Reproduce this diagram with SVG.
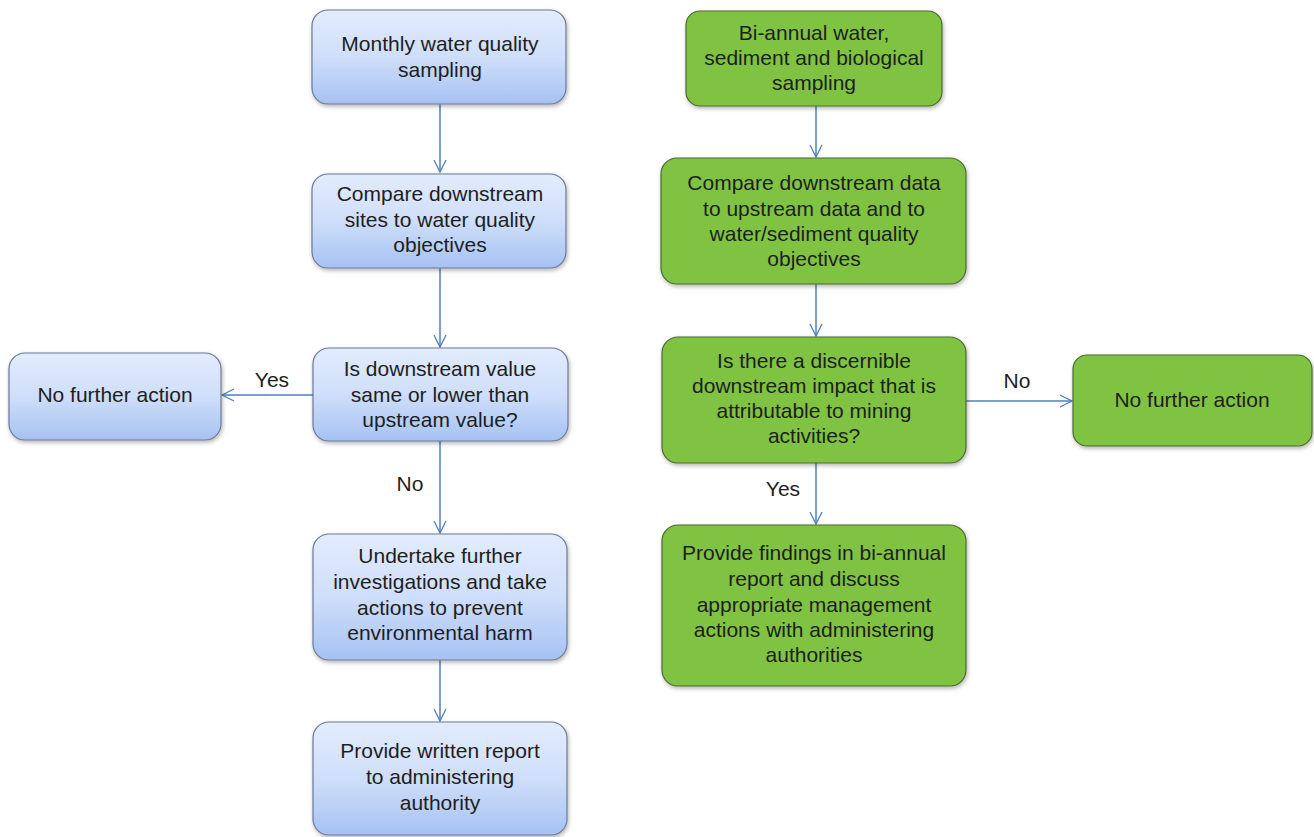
<svg xmlns="http://www.w3.org/2000/svg" width="1314" height="837" viewBox="0 0 1314 837">
<defs>
<linearGradient id="blueGrad" x1="0" y1="0" x2="0" y2="1">
<stop offset="0" stop-color="#e2ecfc"/>
<stop offset="0.5" stop-color="#cfdefa"/>
<stop offset="1" stop-color="#a6c2f3"/>
</linearGradient>
<filter id="shadow" x="-10%" y="-10%" width="125%" height="130%">
<feDropShadow dx="1" dy="2" stdDeviation="2" flood-color="#000" flood-opacity="0.3"/>
</filter>
<marker id="arr" viewBox="0 0 14 14" refX="13" refY="7" markerWidth="14" markerHeight="14" markerUnits="userSpaceOnUse" orient="auto">
<path d="M1,1 L13,7 L1,13" fill="none" stroke="#4f81bd" stroke-width="1.3"/>
</marker>
</defs>
<style>
.blue{fill:url(#blueGrad);stroke:#6b7a96;stroke-width:1.2;filter:url(#shadow)}
.green{fill:#80c342;stroke:#4d6a30;stroke-width:1.2;filter:url(#shadow)}
text{font-family:"Liberation Sans",Arial,sans-serif;font-size:21px;fill:#1e1e1e;text-anchor:middle}
.conn line{stroke:#4f81bd;stroke-width:1.5;marker-end:url(#arr)}
</style>
<rect width="1314" height="837" fill="#ffffff"/>

<g id="connectors" class="conn">
<line x1="440" y1="104" x2="440" y2="172"/>
<line x1="440" y1="268" x2="440" y2="347"/>
<line x1="313" y1="395" x2="222" y2="395"/>
<line x1="440" y1="441" x2="440" y2="533"/>
<line x1="440" y1="660" x2="440" y2="721"/>
<line x1="816" y1="106" x2="816" y2="157"/>
<line x1="816" y1="284" x2="816" y2="336"/>
<line x1="966" y1="401" x2="1072" y2="401"/>
<line x1="816" y1="463" x2="816" y2="524"/>
</g>
<g id="edge-labels">
<text x="272" y="387">Yes</text>
<text x="410" y="491">No</text>
<text x="1017" y="388">No</text>
<text x="783" y="496">Yes</text>
</g>

<g id="n1"><rect class="blue" x="312" y="10" width="254" height="94" rx="16"/>
<text x="440" y="51">Monthly water quality</text><text x="440" y="77">sampling</text></g>

<g id="n2"><rect class="blue" x="312" y="174" width="254" height="94" rx="16"/>
<text x="440" y="201">Compare downstream</text><text x="440" y="227">sites to water quality</text><text x="440" y="252">objectives</text></g>

<g id="n3"><rect class="blue" x="313" y="348" width="255" height="93" rx="16"/>
<text x="440" y="376">Is downstream value</text><text x="440" y="402">same or lower than</text><text x="440" y="427">upstream value?</text></g>

<g id="n3a"><rect class="blue" x="9" y="353" width="212" height="87" rx="16"/>
<text x="115" y="402">No further action</text></g>

<g id="n4"><rect class="blue" x="313" y="534" width="254" height="126" rx="16"/>
<text x="440" y="563">Undertake further</text><text x="440" y="589">investigations and take</text><text x="440" y="615">actions to prevent</text><text x="440" y="640">environmental harm</text></g>

<g id="n5"><rect class="blue" x="313" y="722" width="254" height="113" rx="16"/>
<text x="440" y="758">Provide written report</text><text x="440" y="784">to administering</text><text x="440" y="810">authority</text></g>

<g id="g1"><rect class="green" x="686" y="11" width="256" height="95" rx="14"/>
<text x="814" y="40">Bi-annual water,</text><text x="814" y="65">sediment and biological</text><text x="814" y="90">sampling</text></g>

<g id="g2"><rect class="green" x="661" y="158" width="305" height="126" rx="16"/>
<text x="814" y="190">Compare downstream data</text><text x="814" y="216">to upstream data and to</text><text x="814" y="241">water/sediment quality</text><text x="814" y="266">objectives</text></g>

<g id="g3"><rect class="green" x="662" y="337" width="304" height="126" rx="16"/>
<text x="814" y="368">Is there a discernible</text><text x="814" y="393">downstream impact that is</text><text x="814" y="418">attributable to mining</text><text x="814" y="443">activities?</text></g>

<g id="g4"><rect class="green" x="1073" y="355" width="239" height="91" rx="14"/>
<text x="1192" y="407">No further action</text></g>

<g id="g5"><rect class="green" x="662" y="525" width="304" height="161" rx="16"/>
<text x="814" y="560">Provide findings in bi-annual</text><text x="814" y="586">report and discuss</text><text x="814" y="612">appropriate management</text><text x="814" y="637">actions with administering</text><text x="814" y="662">authorities</text></g>
</svg>
